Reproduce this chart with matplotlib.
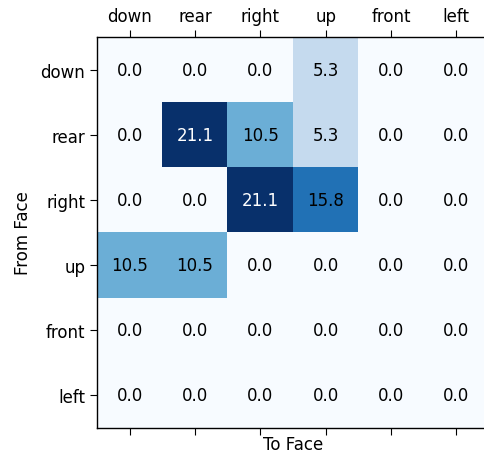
import matplotlib
matplotlib.use("Agg")
import matplotlib.pyplot as plt
import numpy as np

faces = ["down", "rear", "right", "up", "front", "left"]

# transition percentages, rows = from face, columns = to face
pct_down = [0.0, 0.0, 0.0, 5.3, 0.0, 0.0]
pct_rear = [0.0, 21.1, 10.5, 5.3, 0.0, 0.0]
pct_right = [0.0, 0.0, 21.1, 15.8, 0.0, 0.0]
pct_up = [10.5, 10.5, 0.0, 0.0, 0.0, 0.0]
pct_front = [0.0, 0.0, 0.0, 0.0, 0.0, 0.0]
pct_left = [0.0, 0.0, 0.0, 0.0, 0.0, 0.0]

matrix = np.array([pct_down, pct_rear, pct_right, pct_up, pct_front, pct_left])

plt.rcParams['font.size'] = 12

fig = plt.figure(figsize=(4.84, 4.56), dpi=100)
ax = fig.add_axes([97 / 484, 27 / 456, 392 / 484, 391 / 456])

vmax = matrix.max()
ax.imshow(matrix, cmap='Blues', vmin=0, vmax=vmax, aspect='auto')

# cell labels, white text on the darkest cells
for i in range(matrix.shape[0]):
    for j in range(matrix.shape[1]):
        val = matrix[i, j]
        color = 'white' if val > vmax * 0.8 else 'black'
        ax.text(j, i, f"{val:.1f}", ha='center', va='center', color=color, fontsize=12)

ax.set_xticks(range(len(faces)))
ax.set_xticklabels(faces)
ax.set_yticks(range(len(faces)))
ax.set_yticklabels(faces)
ax.tick_params(axis='x', top=True, labeltop=True, bottom=True, labelbottom=False)
ax.tick_params(length=5)
for spine in ax.spines.values():
    spine.set_linewidth(1.0)

ax.set_xlabel("To Face", labelpad=0)
ax.set_ylabel("From Face", labelpad=6)

fig.savefig("out.png", dpi=100)
